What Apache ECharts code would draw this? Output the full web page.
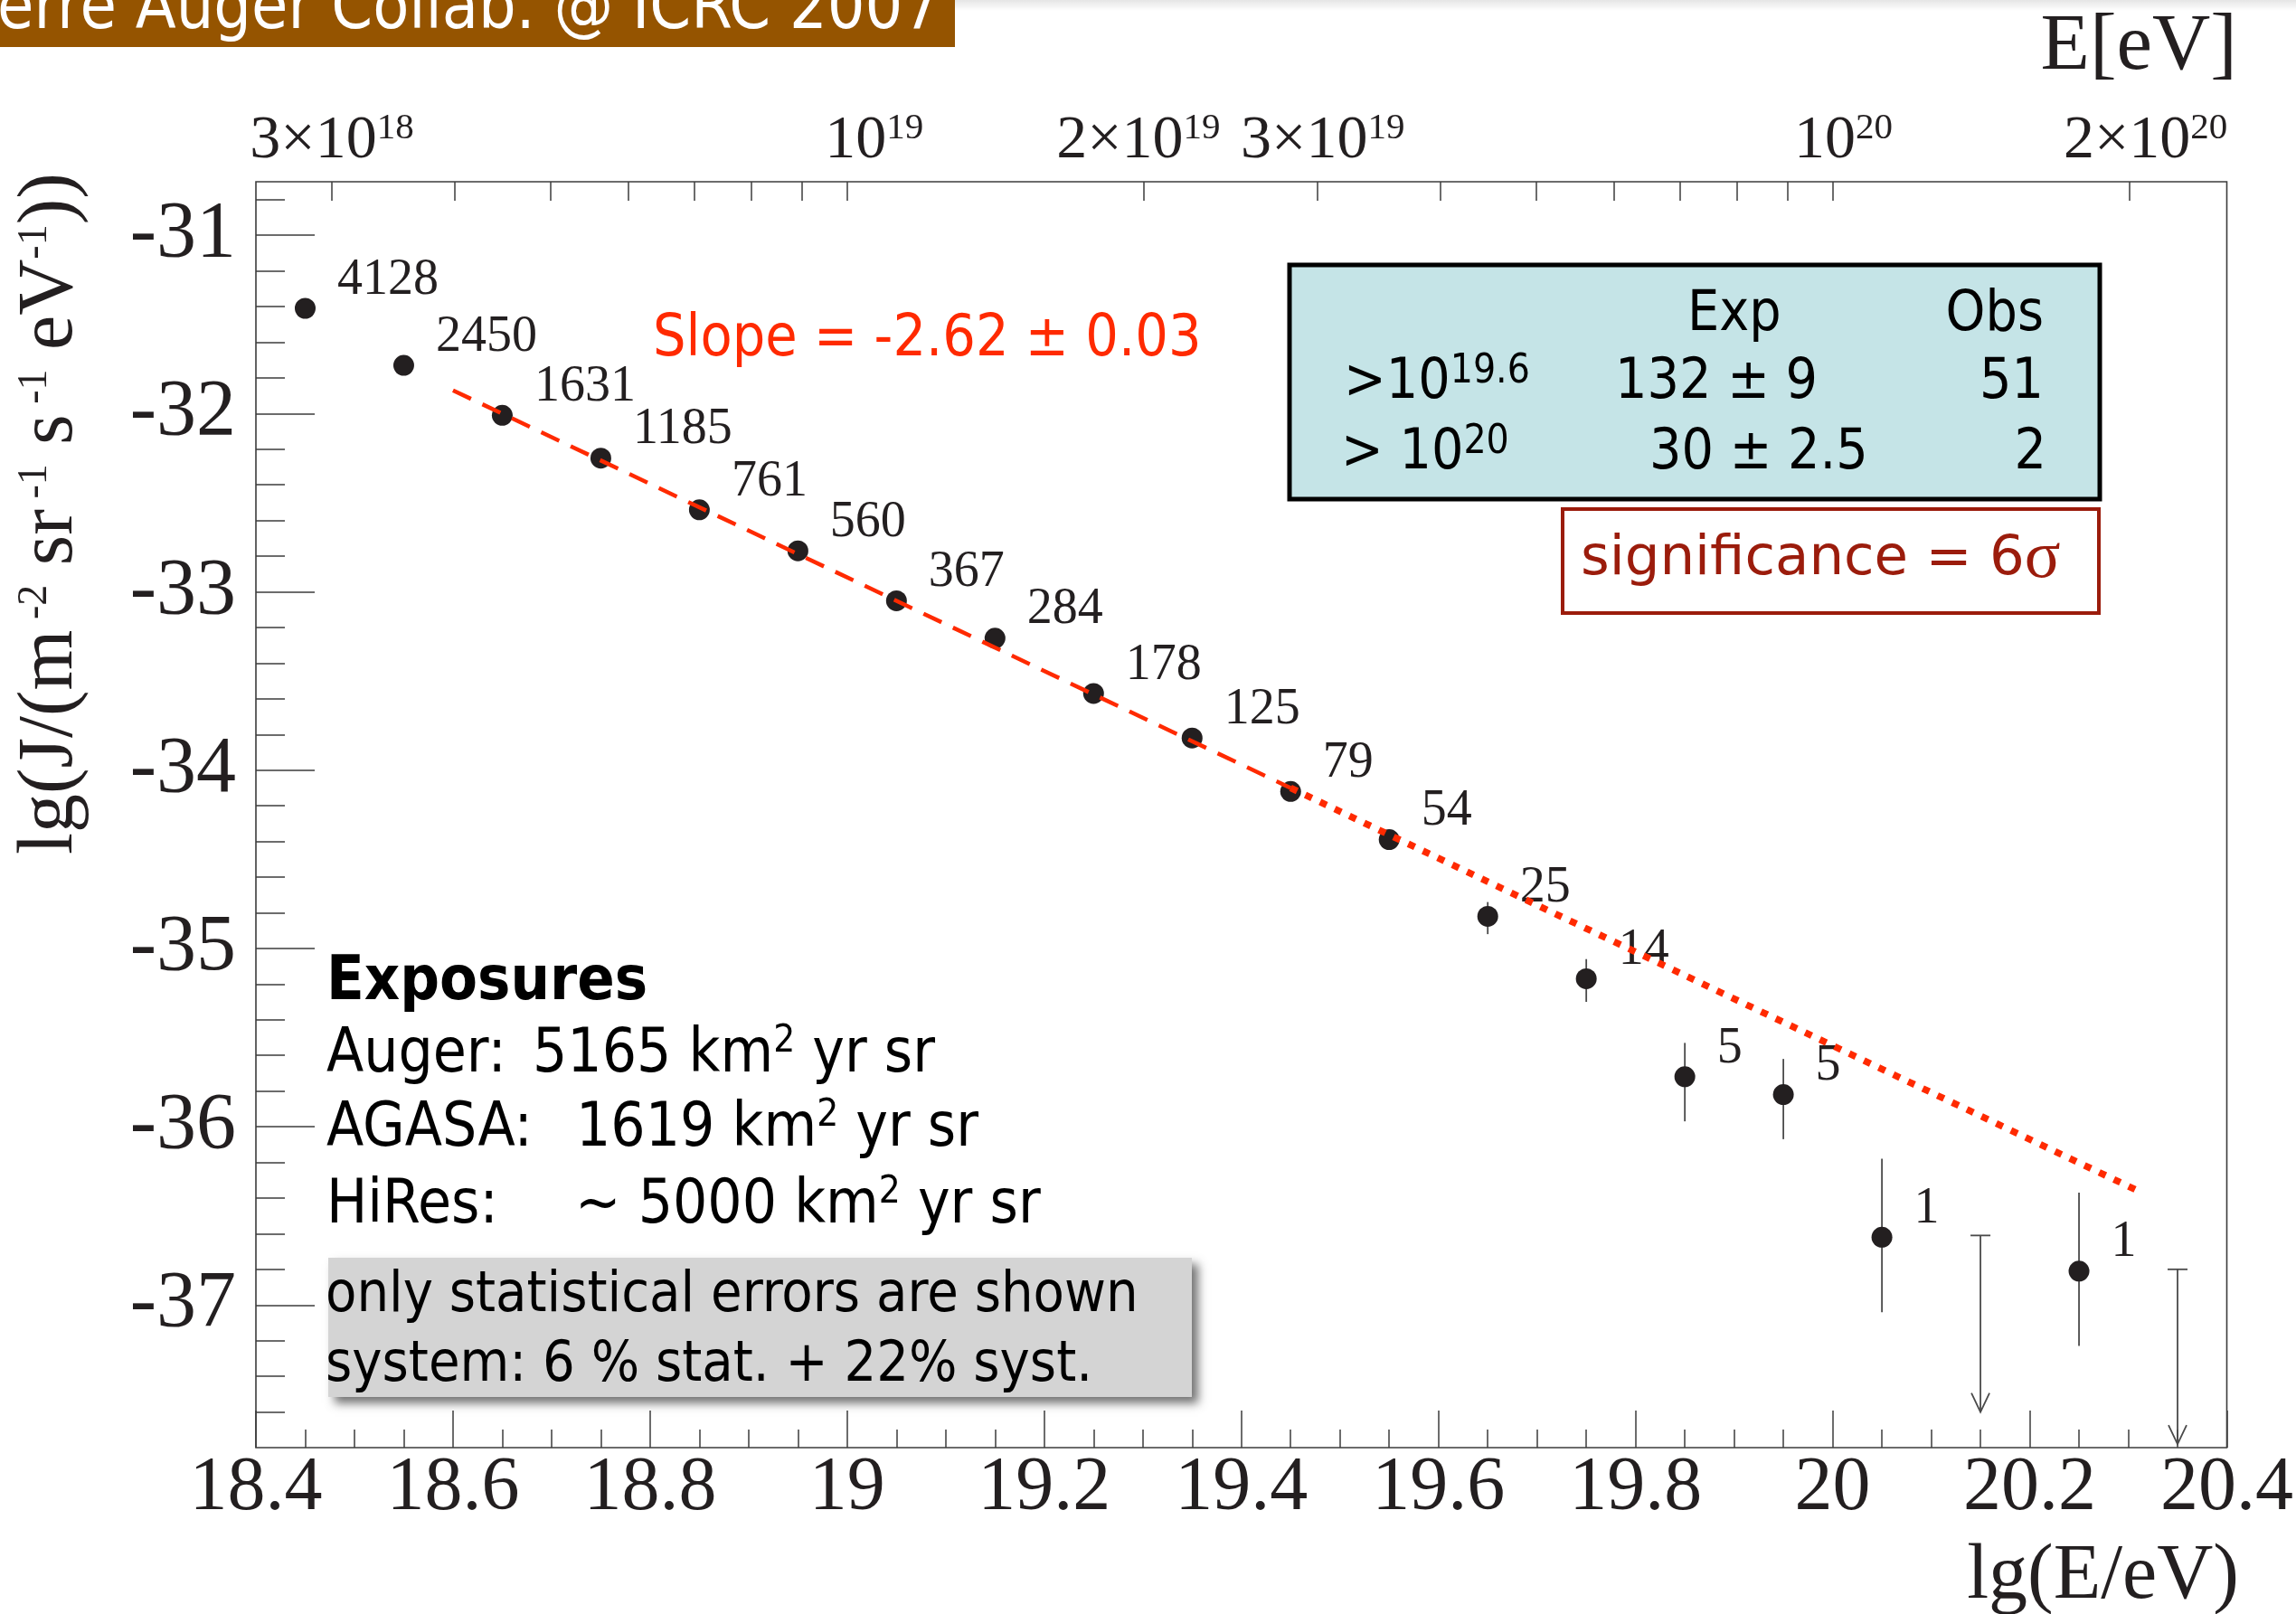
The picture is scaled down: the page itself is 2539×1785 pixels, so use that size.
<!DOCTYPE html>
<html>
<head>
<meta charset="utf-8">
<script src="https://cdn.jsdelivr.net/npm/echarts@6/dist/echarts.min.js"></script>
<style>
  html, body { margin: 0; padding: 0; background: #fff; }
  #chart { width: 2539px; height: 1785px; }
</style>
</head>
<body>
<div id="chart"></div>
<script>
// Auger energy spectrum: bin centres in lg(E/eV) and flux lg(J)
const lgE    = [18.45, 18.55, 18.65, 18.75, 18.85, 18.95, 19.05, 19.15, 19.25, 19.35, 19.45, 19.55, 19.65, 19.75, 19.85, 19.95, 20.05, 20.25];
const lgJ    = [-31.41, -31.73, -32.01, -32.25, -32.54, -32.77, -33.05, -33.26, -33.57, -33.82, -34.12, -34.39, -34.82, -35.17, -35.72, -35.82, -36.62, -36.81];
const nEvents = [4128, 2450, 1631, 1185, 761, 560, 367, 284, 178, 125, 79, 54, 25, 14, 5, 5, 1, 1];
// statistical error bar ends (null where the bar is hidden by the marker)
const errHigh = [null, null, null, null, null, null, null, null, null, null, null, null, -34.74, -35.06, -35.53, -35.62, -36.18, -36.37];
const errLow  = [null, null, null, null, null, null, null, null, null, null, null, null, -34.92, -35.30, -35.97, -36.07, -37.04, -37.23];

// empty bins: upper limits
const limLgE = [20.15, 20.35];
const limTop = [-36.61, -36.80];
const limEnd = [-37.60, -37.78];

// power-law fit, slope -2.62: fitted range (dashed) and extrapolation (dotted)
const fitDashX = [18.60, 19.45];
const fitDashY = [-31.87, -34.10];
const fitDotX  = [19.45, 20.31];
const fitDotY  = [-34.10, -36.36];

// axis ticks
const yMajorTicks = [-37, -36, -35, -34, -33, -32, -31];
const topTickEnergies = [3e18, 4e18, 5e18, 6e18, 7e18, 8e18, 9e18,
                         1e19, 2e19, 3e19, 4e19, 5e19, 6e19, 7e19, 8e19, 9e19,
                         1e20, 2e20];
const topLabelEnergies = [3e18, 1e19, 2e19, 3e19, 1e20, 2e20];
const topLabelMantissa = ['3×10', '10', '2×10', '3×10', '10', '2×10'];
const topLabelExponent = ['18', '19', '19', '19', '20', '20'];

const SERIF = "'Liberation Serif', 'Times New Roman', serif";
const SANS  = "'DejaVu Sans Condensed', 'DejaVu Sans', sans-serif";
const WIDE  = "'DejaVu Sans', sans-serif";
const INK   = '#231f20';
const FRAME = '#3c3c3c';
const RED   = '#ff2a00';

// horizontal nudge of each energy label relative to its tick (px)
const topLabelNudge = [0, 30, -6, 6, 12, 18];

const yMinorTicks = [];
for (let k = 1; k < 36; k++) {
  const v = Math.round((-37.8 + 0.2 * k) * 10) / 10;
  if (Math.abs(v - Math.round(v)) > 1e-6) yMinorTicks.push(v);
}
const topTickVals = topTickEnergies.map(e => Math.log10(e));
const topLabelVals = topLabelEnergies.map(e => Math.log10(e));

const points = lgE.map((x, i) => [x, lgJ[i]]);
const errData = [];
lgE.forEach((x, i) => { if (errHigh[i] !== null) errData.push([x, errLow[i], errHigh[i]]); });
const limData = limLgE.map((x, i) => [x, limTop[i], limEnd[i]]);

// rich styles for the energy labels: base, superscript, and a spacer per label
const topRich = {
  b: { fontFamily: SERIF, fontSize: 68, lineHeight: 68, color: INK },
  s: { fontFamily: SERIF, fontSize: 41, lineHeight: 10, padding: [0, 0, 27, 0], color: INK }
};
topLabelNudge.forEach((n, i) => {
  topRich['p' + i] = { fontSize: 10, lineHeight: 10, width: Math.abs(2 * n) };
});

function sup(size, raise, family) {
  return { fontFamily: family, fontSize: size, lineHeight: 10, padding: [0, 0, raise, 0] };
}
function text(x, y, str, style, extra) {
  return Object.assign({
    type: 'text', x: x, y: y, z: 10,
    style: Object.assign({ text: str, fill: '#000', fontFamily: SANS, fontSize: 62,
                           align: 'left', verticalAlign: 'middle' }, style)
  }, extra || {});
}

const chart = echarts.init(document.getElementById('chart'), null, { renderer: 'canvas' });

const option = {
  animation: false,
  backgroundColor: '#fff',
  grid: { left: 283, right: 71, top: 201, bottom: 184, show: true,
          borderColor: FRAME, borderWidth: 1.6, backgroundColor: 'transparent' },
  xAxis: [
    {
      type: 'value', position: 'bottom', min: 18.4, max: 20.4, interval: 0.2,
      axisLine: { show: false },
      axisTick: { show: true, inside: true, length: 41, lineStyle: { color: FRAME, width: 1.5 } },
      minorTick: { show: true, splitNumber: 4, length: 20, lineStyle: { color: FRAME, width: 1.5 } },
      splitLine: { show: false }, minorSplitLine: { show: false },
      axisLabel: { fontFamily: SERIF, fontSize: 84, lineHeight: 84, color: INK, margin: 4,
                   showMinLabel: true, showMaxLabel: true }
    },
    {
      type: 'value', position: 'top', min: 18.4, max: 20.4,
      axisLine: { show: false },
      axisTick: { show: true, inside: true, length: 21, customValues: topTickVals,
                  lineStyle: { color: FRAME, width: 1.5 } },
      splitLine: { show: false },
      axisLabel: {
        customValues: topLabelVals, margin: 11,
        formatter: function (v) {
          let k = 0;
          topLabelVals.forEach((t, i) => { if (Math.abs(t - v) < Math.abs(topLabelVals[k] - v)) k = i; });
          const core = '{b|' + topLabelMantissa[k] + '}{s|' + topLabelExponent[k] + '}';
          const n = topLabelNudge[k];
          if (n === 0) return core;
          return n > 0 ? '{p' + k + '| }' + core : core + '{p' + k + '| }';
        },
        rich: topRich
      }
    }
  ],
  yAxis: [
    {
      type: 'value', position: 'left', min: -37.8, max: -30.7,
      axisLine: { show: false },
      axisTick: { show: true, inside: true, length: 65, customValues: yMajorTicks,
                  lineStyle: { color: FRAME, width: 1.5 } },
      splitLine: { show: false },
      axisLabel: { customValues: yMajorTicks, fontFamily: SERIF, fontSize: 88, color: INK, margin: 22 }
    },
    {
      type: 'value', position: 'left', offset: 0, min: -37.8, max: -30.7,
      axisLine: { show: false },
      axisTick: { show: true, inside: true, length: 32, customValues: yMinorTicks,
                  lineStyle: { color: FRAME, width: 1.5 } },
      splitLine: { show: false },
      axisLabel: { show: false }
    }
  ],
  series: [
    {
      type: 'custom', name: 'stat. errors', xAxisIndex: 0, yAxisIndex: 0, z: 3, silent: true,
      data: errData,
      renderItem: function (params, api) {
        const a = api.coord([api.value(0), api.value(1)]);
        const b = api.coord([api.value(0), api.value(2)]);
        return { type: 'line', shape: { x1: a[0], y1: a[1], x2: b[0], y2: b[1] },
                 style: { stroke: '#4a4a4a', lineWidth: 1.8 } };
      }
    },
    {
      type: 'custom', name: 'upper limits', xAxisIndex: 0, yAxisIndex: 0, z: 3, silent: true,
      data: limData,
      renderItem: function (params, api) {
        const top = api.coord([api.value(0), api.value(1)]);
        const end = api.coord([api.value(0), api.value(2)]);
        const st = { stroke: '#4a4a4a', lineWidth: 1.8, fill: null };
        return {
          type: 'group',
          children: [
            { type: 'line', shape: { x1: top[0] - 11, y1: top[1], x2: top[0] + 11, y2: top[1] }, style: st },
            { type: 'line', shape: { x1: top[0], y1: top[1], x2: end[0], y2: end[1] }, style: st },
            { type: 'polyline', shape: { points: [[end[0] - 10, end[1] - 21], [end[0], end[1]], [end[0] + 10, end[1] - 21]] }, style: st }
          ]
        };
      }
    },
    {
      type: 'scatter', name: 'flux', xAxisIndex: 0, yAxisIndex: 0, z: 4,
      data: points, symbol: 'circle', symbolSize: 23,
      itemStyle: { color: INK, opacity: 1 },
      label: {
        show: true, position: 'right', distance: 24, offset: [0, -31],
        formatter: p => String(nEvents[p.dataIndex]),
        fontFamily: SERIF, fontSize: 56, color: INK
      }
    },
    {
      type: 'line', name: 'fit', xAxisIndex: 0, yAxisIndex: 0, z: 5, silent: true,
      data: fitDashX.map((x, i) => [x, fitDashY[i]]), symbol: 'none',
      lineStyle: { color: RED, width: 4.5, type: [22, 14], cap: 'butt' }
    },
    {
      type: 'line', name: 'extrapolation', xAxisIndex: 0, yAxisIndex: 0, z: 5, silent: true,
      data: fitDotX.map((x, i) => [x, fitDotY[i]]), symbol: 'none',
      lineStyle: { color: RED, width: 7.5, type: [8, 10], cap: 'butt' }
    }
  ],
  graphic: [
    // conference banner
    { type: 'rect', z: 10, shape: { x: 0, y: 0, width: 1056, height: 52 }, style: { fill: '#955400' } },
    text(-3, 12, 'erre Auger Collab. @ ICRC 2007', { fill: '#fff', fontSize: 73 }),
    { type: 'rect', z: 9, shape: { x: 1056, y: 0, width: 1483, height: 12 },
      style: { fill: new echarts.graphic.LinearGradient(0, 0, 0, 1, [
        { offset: 0, color: 'rgba(0,0,0,0.10)' }, { offset: 1, color: 'rgba(0,0,0,0)' }]) } },

    // axis titles
    text(2474, 53, 'E[eV]', { fontFamily: SERIF, fontSize: 89, fill: INK, align: 'right' }),
    text(2476, 1744, 'lg(E/eV)', { fontFamily: SERIF, fontSize: 86, fill: INK, align: 'right' }),
    text(56, 568, '{b|lg(J/(m}{s| -2}{b| sr}{s| -1}{b| s}{s| -1}{b| eV}{s|-1}{b|))}', {
      fill: INK, align: 'center',
      rich: {
        b: { fontFamily: SERIF, fontSize: 86, lineHeight: 90 },
        s: sup(46, 34, SERIF)
      }
    }, { rotation: Math.PI / 2 }),

    // fit annotation
    text(722, 376, 'Slope = -2.62 ± 0.03', { fill: RED, fontSize: 64 }),

    // expected vs observed table
    { type: 'rect', z: 9, shape: { x: 1426, y: 293, width: 896, height: 259 },
      style: { fill: '#c5e4e7', stroke: '#000', lineWidth: 5 } },
    text(1866, 349, 'Exp', {}),
    text(2260, 349, 'Obs', { align: 'right' }),
    text(1486, 424, '{b|>10}{s|19.6}', { rich: { b: { fontFamily: SANS, fontSize: 62, lineHeight: 72 }, s: sup(44, 25, SANS) } }),
    text(1786, 424, '132 ± 9', {}),
    text(2260, 424, '51', { align: 'right' }),
    text(1483, 502, '{b|> 10}{s|20}', { rich: { b: { fontFamily: SANS, fontSize: 62, lineHeight: 72 }, s: sup(44, 25, SANS) } }),
    text(1824, 502, '30 ± 2.5', {}),
    text(2263, 502, '2', { align: 'right' }),

    { type: 'rect', z: 9, shape: { x: 1728, y: 563, width: 593, height: 115 },
      style: { fill: '#fff', stroke: '#9b1c0c', lineWidth: 4 } },
    text(1748, 619, '{b|significance = 6}{g|σ}', {
      fill: '#9b1c0c',
      rich: { b: { fontFamily: WIDE, fontSize: 61, lineHeight: 70 }, g: { fontFamily: SERIF, fontSize: 74, lineHeight: 70 } }
    }),

    // exposures
    text(361, 1087, 'Exposures', { fontWeight: 'bold', fontSize: 68 }),
    text(361, 1168, 'Auger:', { fontSize: 67 }),
    text(589, 1168, '{b|5165 km}{s|2}{b| yr sr}', { rich: { b: { fontFamily: SANS, fontSize: 67, lineHeight: 76 }, s: sup(42, 32, SANS) } }),
    text(361, 1250, 'AGASA:', { fontSize: 67 }),
    text(637, 1250, '{b|1619 km}{s|2}{b| yr sr}', { rich: { b: { fontFamily: SANS, fontSize: 67, lineHeight: 76 }, s: sup(42, 32, SANS) } }),
    text(361, 1335, 'HiRes:', { fontSize: 67 }),
    text(636, 1335, '{b|~ 5000 km}{s|2}{b| yr sr}', { rich: { b: { fontFamily: SANS, fontSize: 67, lineHeight: 76 }, s: sup(42, 32, SANS) } }),

    // error note
    { type: 'rect', z: 9, shape: { x: 363, y: 1391, width: 955, height: 154 },
      style: { fill: '#d4d4d4', shadowBlur: 10, shadowOffsetX: 7, shadowOffsetY: 7, shadowColor: 'rgba(0,0,0,0.55)' } },
    text(360, 1434, 'only statistical errors are shown', { fontSize: 62.5 }),
    text(360, 1511, 'system: 6 % stat. + 22% syst.', { fontSize: 62.5 })
  ]
};

chart.setOption(option);
</script>
</body>
</html>
